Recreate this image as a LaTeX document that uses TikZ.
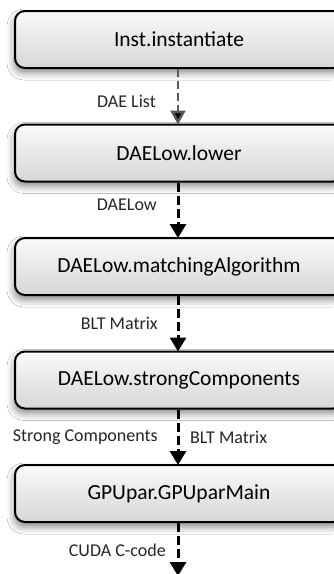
\documentclass[tikz,border=0pt]{standalone}
\usepackage{fontspec}
\setmainfont{Carlito}
\usetikzlibrary{arrows.meta,shadows.blur}
\tikzset{
  stagebox/.style={draw=black, line width=2pt, rounded corners=10pt,
    minimum width=328pt, minimum height=57pt, inner sep=0pt,
    top color=white!98!black, bottom color=white!84!black,
    blur shadow={shadow xshift=-1pt, shadow yshift=-5pt, shadow blur radius=7pt, shadow opacity=45},
    font=\fontsize{21.5}{25}\selectfont},
  flow/.style={line width=3pt, draw=black, dash pattern=on 9pt off 4pt,
    -{Triangle[width=16pt,length=14pt]}, shorten >=-1pt},
  flowthin/.style={line width=2.5pt, draw=black!65, dash pattern=on 8pt off 4pt,
    -{Triangle[width=15pt,length=14pt,fill=black]}, shorten >=-1pt},
  lbl/.style={font=\fontsize{18}{21}\selectfont, inner sep=0pt, text=black!85}
}
\begin{document}
\begin{tikzpicture}[x=1pt,y=1pt]
\useasboundingbox (0,0) rectangle (334,-574);
\clip (0,0) rectangle (334,-574);
\fill[white] (0,0) rectangle (334,-574);
\node[stagebox] (b1) at (179,-39.5) {Inst.instantiate};
\node[stagebox] (b2) at (179,-153) {DAELow.lower};
\node[stagebox] (b3) at (179,-266.5) {DAELow.matchingAlgorithm};
\node[stagebox] (b4) at (179,-380) {DAELow.strongComponents};
\node[stagebox] (b5) at (179,-493.5) {GPUpar.GPUparMain};
\coordinate (end) at (178,-575);
\draw[flowthin] ([xshift=-1pt]b1.south) -- ([xshift=-1pt]b2.north);
\draw[flow] ([xshift=-1pt]b2.south) -- ([xshift=-1pt]b3.north);
\draw[flow] ([xshift=-1pt]b3.south) -- ([xshift=-1pt]b4.north);
\draw[flow] ([xshift=-1pt]b4.south) -- ([xshift=-1pt]b5.north);
\draw[flow] ([xshift=-1pt]b5.south) -- (end);
\node[lbl, anchor=east] (l1) at (156,-101) {DAE List};
\node[lbl, anchor=east] (l2) at (157,-205) {DAELow};
\node[lbl, anchor=east] (l3) at (158,-323) {BLT Matrix};
\node[lbl, anchor=east] (l4) at (158,-437) {Strong Components};
\node[lbl, anchor=west] (l5) at (190,-437) {BLT Matrix};
\node[lbl, anchor=east] (l6) at (166,-550) {CUDA C-code};
\end{tikzpicture}
\end{document}
